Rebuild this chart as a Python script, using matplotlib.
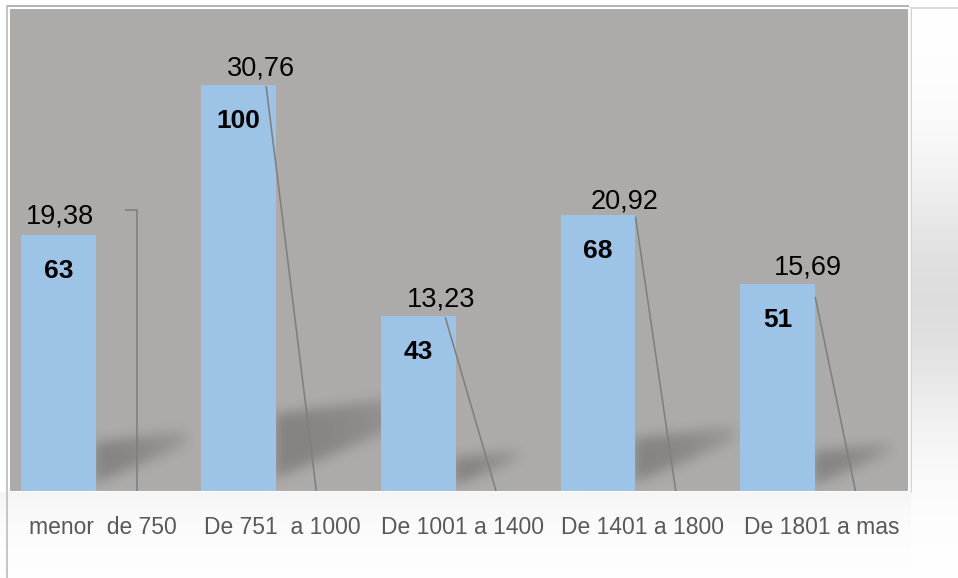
import numpy as np
import matplotlib
matplotlib.use("Agg")
import matplotlib.pyplot as plt
from matplotlib.path import Path

# ---- data -------------------------------------------------------------
categories = ["menor  de 750", "De 751  a 1000", "De 1001 a 1400",
              "De 1401 a 1800", "De 1801 a mas"]
counts = [63, 100, 43, 68, 51]
percents = [19.38, 30.76, 13.23, 20.92, 15.69]

# ---- layout -----------------------------------------------------------
W, H, DPI = 958, 578, 100
LEFT, RIGHT, TOP, BOTTOM = 9.5, 908, 9, 491      # plot area in pixels
YMAX = 118.7
BAR_SHIFT, BAR_W, PCT_SHIFT = -0.225, 0.417, 0.2075

# label offsets in pixels (dx, dy) relative to the top centre of each bar
pct_offsets = [(1, 12), (22, 9), (23, 10), (27, 6), (30, 9)]
leader_starts = [(66.5, 25), (27.5, -1), (27, -1), (37.5, -2), (37.5, -13)]
leader_elbow = [True, False, False, False, False]
COUNT_DY = -43

BAR_COLOR = "#9dc3e6"
PLOT_BG = "#adaba9"
LINE_COLOR = "#7f7f7f"
FONT = "Liberation Sans"

fig = plt.figure(figsize=(W / DPI, H / DPI), dpi=DPI)
fig.patch.set_facecolor("white")

# ---- chart background with soft gradients -----------------------------
yy, xx = np.mgrid[0:H, 0:W] + 0.5
shade = np.zeros((H, W))
right = xx >= 911
shade += np.where(right, 0.13 * np.exp(-((yy - 300) / 130) ** 2), 0)
below = (yy >= 492) & ~right
shade += np.where(below, 0.04 * np.exp(-(yy - 492) / 35), 0)
bg = np.clip(1 - shade, 0, 1)
ax_bg = fig.add_axes([0, 0, 1, 1], zorder=0)
ax_bg.imshow(np.dstack([bg, bg, bg]), extent=(0, W, H, 0), aspect="auto",
             interpolation="nearest")
ax_bg.set_xlim(0, W)
ax_bg.set_ylim(H, 0)
ax_bg.axis("off")
px = 72 / DPI
ax_bg.plot([7.5, 7.5], [5, H], color="#c6c6c6", lw=2 * px, solid_capstyle="butt")
ax_bg.plot([7, 909], [6, 6], color="#b6b4b4", lw=2 * px, solid_capstyle="butt")
ax_bg.plot([909, W], [7.5, 7.5], color="#d8d8d8", lw=2 * px, solid_capstyle="butt")
ax_bg.plot([910, 910], [8, 492], color="#f4f4f4", lw=2 * px, solid_capstyle="butt")
ax_bg.plot([911.5, 911.5], [8, 492], color="#d4d4d4", lw=1 * px, solid_capstyle="butt")

# ---- plot area --------------------------------------------------------
ax = fig.add_axes([LEFT / W, 1 - BOTTOM / H, (RIGHT - LEFT) / W, (BOTTOM - TOP) / H],
                  zorder=1)
ax.set_facecolor(PLOT_BG)
for s in ax.spines.values():
    s.set_visible(False)
ax.set_xticks([])
ax.set_yticks([])

px_x = (RIGHT - LEFT) / 5.0
px_y = (BOTTOM - TOP) / YMAX
x = np.arange(len(categories))
bar_x = x + BAR_SHIFT

# ---- soft cast shadows behind the columns -----------------------------
aw, ah = int(round(RIGHT - LEFT)), int(round(BOTTOM - TOP))
gy, gx = np.mgrid[0:ah, 0:aw] + 0.5
pts = np.column_stack([gx.ravel(), gy.ravel()])
mask = np.zeros(ah * aw)
for bx, v in zip(bar_x, counts):
    xr = (bx + BAR_W / 2 + 0.5) * px_x
    hb = v * px_y
    L = 0.35 * hb
    poly = Path([(xr - 3, 0.03 * hb), (xr - 3, 0.19 * hb), (xr + L, 0.235 * hb),
                 (xr + L, 0.18 * hb), (xr - 3, 0.03 * hb)])
    inside = poly.contains_points(pts).astype(float)
    fade = np.clip(1 - 0.6 * ((pts[:, 0] - xr) / L) ** 2, 0, 1)
    mask = np.maximum(mask, inside * fade)
mask = mask.reshape(ah, aw)

sigma = 6.0
k = np.arange(-20, 21)
kern = np.exp(-0.5 * (k / sigma) ** 2)
kern /= kern.sum()
pad = np.pad(mask, 20, mode="edge")
pad = np.apply_along_axis(lambda r: np.convolve(r, kern, mode="same"), 1, pad)
pad = np.apply_along_axis(lambda c: np.convolve(c, kern, mode="same"), 0, pad)
mask = pad[20:-20, 20:-20]
rgba = np.zeros((ah, aw, 4))
rgba[..., 3] = 0.23 * mask
ax.imshow(rgba, origin="lower", extent=(-0.5, 4.5, 0, YMAX), aspect="auto",
          interpolation="bilinear", zorder=1)
ax.set_xlim(-0.5, 4.5)
ax.set_ylim(0, YMAX)

# ---- columns ------------------------------------------------------------
ax.bar(bar_x, counts, width=BAR_W, color=BAR_COLOR, zorder=3)

# ---- value labels and leader lines --------------------------------------
for i, (bx, v, p) in enumerate(zip(bar_x, counts, percents)):
    ax.annotate(f"{v}", xy=(bx, v), xytext=(0, COUNT_DY), textcoords="offset pixels",
                ha="center", va="baseline", fontsize=19, fontweight="bold",
                family=FONT, color="black", zorder=5)
    dx, dy = pct_offsets[i]
    ax.annotate(f"{p:.2f}".replace(".", ","), xy=(bx, v), xytext=(dx, dy),
                textcoords="offset pixels", ha="center", va="baseline",
                fontsize=19.5, family=FONT, color="black", zorder=5)
    sx = bx + leader_starts[i][0] / px_x
    sy = v + leader_starts[i][1] / px_y
    ex = x[i] + PCT_SHIFT
    if leader_elbow[i]:
        xs, ys = [sx, ex, ex], [sy, sy, 0]
    else:
        xs, ys = [sx, ex], [sy, 0]
    ax.plot(xs, ys, color=LINE_COLOR, lw=1.6 * px, zorder=4,
            solid_capstyle="butt", clip_on=False)

# ---- category labels ------------------------------------------------------
for xi, lab in zip(x, categories):
    ax.text(xi + 0.02, (BOTTOM - 534) / (BOTTOM - TOP), lab,
            transform=ax.get_xaxis_transform(), ha="center", va="baseline",
            fontsize=16.5, family=FONT, color="#595959")

fig.savefig("out.png", dpi=DPI, facecolor=fig.get_facecolor())
